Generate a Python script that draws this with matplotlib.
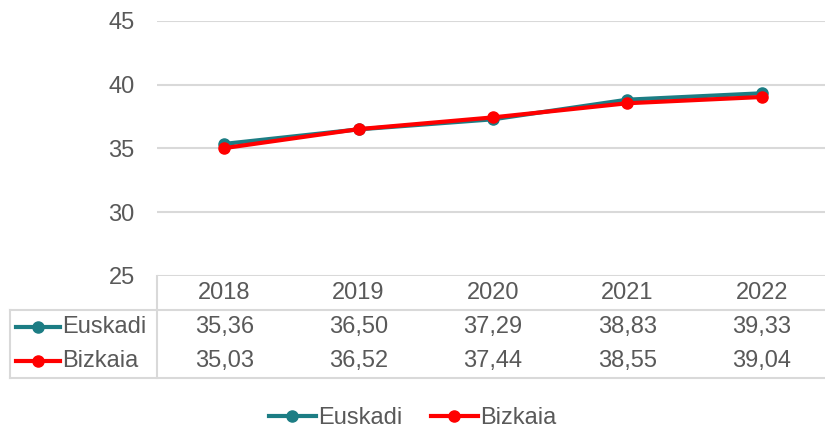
import matplotlib.pyplot as plt
from matplotlib.lines import Line2D
from matplotlib.transforms import blended_transform_factory

plt.rcParams['font.family'] = ['Liberation Sans', 'DejaVu Sans']

# ---------------------------------------------------------------------
# Data
# ---------------------------------------------------------------------
years = ['2018', '2019', '2020', '2021', '2022']
euskadi = [35.36, 36.50, 37.29, 38.83, 39.33]
bizkaia = [35.03, 36.52, 37.44, 38.55, 39.04]
series_names = ['Euskadi', 'Bizkaia']
y_ticks = [25, 30, 35, 40, 45]

TEAL = '#1C7D84'
RED = '#FF0000'
TEXT = '#595959'
GRID = '#D9D9D9'
FS = 17
W, H = 825, 430


def fy(py):
    """Pixel row (from top) -> figure fraction."""
    return 1 - py / H


def fx(px):
    return px / W


fig = plt.figure(figsize=(W / 100, H / 100), dpi=100)
ax = fig.add_axes([fx(157), fy(276), fx(672), fy(21) - fy(276)])

x = [i + 0.5 for i in range(len(years))]
ax.plot(x, euskadi, color=TEAL, lw=3, marker='o', ms=8, solid_capstyle='round', zorder=3)
ax.plot(x, bizkaia, color=RED, lw=3, marker='o', ms=8, solid_capstyle='round', zorder=4)

ax.set_xlim(0, len(years))
ax.set_ylim(25, 45)
ax.set_yticks(y_ticks)
ax.set_xticks([])
ax.tick_params(axis='y', length=0, pad=16, labelsize=FS, labelcolor=TEXT)
for s in ax.spines.values():
    s.set_visible(False)
ax.grid(axis='y', color=GRID, lw=1.5)
ax.set_axisbelow(True)

# ---------------------------------------------------------------------
# Data table under the plot
# ---------------------------------------------------------------------
def hline(py, x0, x1):
    fig.add_artist(Line2D([fx(x0), fx(x1)], [fy(py), fy(py)], color=GRID, lw=1.5))


def vline(px, y0, y1):
    fig.add_artist(Line2D([fx(px), fx(px)], [fy(y0), fy(y1)], color=GRID, lw=1.5))


hline(310, 10, 825)
hline(378, 10, 825)
vline(157, 276, 378)
vline(10, 310, 378)

tr = blended_transform_factory(ax.transData, fig.transFigure)
for xi, yr in zip(x, years):
    fig.text(xi, fy(293), yr, transform=tr, ha='center', va='center', fontsize=FS, color=TEXT)

rows = [(series_names[0], euskadi, TEAL, 327), (series_names[1], bizkaia, RED, 361)]
for name, vals, col, py in rows:
    fig.add_artist(Line2D([fx(16), fx(60)], [fy(py), fy(py)], color=col, lw=3))
    fig.add_artist(Line2D([fx(38)], [fy(py)], color=col, marker='o', ms=8, lw=0))
    fig.text(fx(62), fy(py), name, ha='left', va='center', fontsize=FS, color=TEXT)
    for xi, v in zip(x, vals):
        fig.text(xi, fy(py), f'{v:.2f}'.replace('.', ','), transform=tr,
                 ha='center', va='center', fontsize=FS, color=TEXT)

# ---------------------------------------------------------------------
# Legend
# ---------------------------------------------------------------------
handles = [Line2D([], [], color=TEAL, lw=3, marker='o', ms=8),
           Line2D([], [], color=RED, lw=3, marker='o', ms=8)]
fig.legend(handles, series_names, loc='center', bbox_to_anchor=(0.5, fy(418)),
           ncol=2, frameon=False, fontsize=FS, labelcolor=TEXT,
           handlelength=2.0, handletextpad=0.1, columnspacing=1.2)

fig.savefig('out.png', dpi=100)
